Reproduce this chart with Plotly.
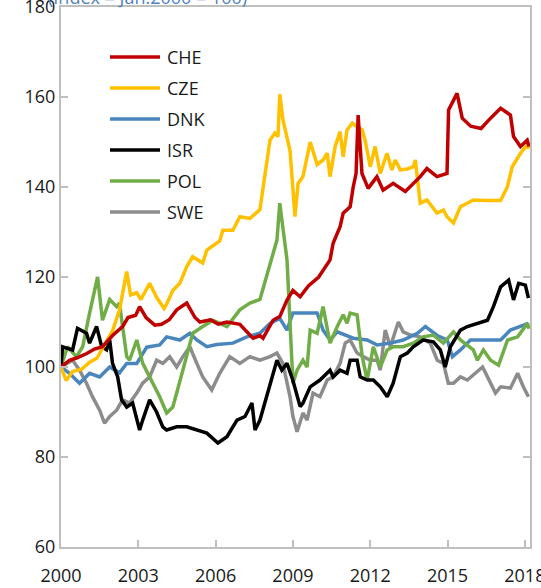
import plotly.graph_objects as go

# ---- data (decimal years, index Jan.2000 = 100) ----
che_x = [2000.0, 2000.33, 2000.6, 2001.0, 2001.3, 2001.61, 2002.0, 2002.39, 2002.6, 2002.9, 2003.05, 2003.3,
         2003.64, 2003.9, 2004.2, 2004.49, 2004.88, 2005.2, 2005.39, 2005.8, 2006.1, 2006.44, 2006.94, 2007.2,
         2007.45, 2007.72, 2007.84, 2008.23, 2008.49, 2008.77, 2009.0, 2009.28, 2009.6, 2010.0, 2010.44, 2010.56,
         2010.83, 2010.95, 2011.22, 2011.34, 2011.45, 2011.53, 2011.68, 2011.92, 2012.26, 2012.5, 2012.89, 2013.36,
         2013.67, 2013.94, 2014.2, 2014.59, 2014.98, 2015.04, 2015.37, 2015.57, 2015.9, 2016.3, 2016.67, 2017.06,
         2017.44, 2017.56, 2017.83, 2018.09, 2018.16]
che_y = [100, 101.5, 102, 103, 104, 104.5, 107, 109, 111, 111.5, 113.4, 111,
         109.3, 109.5, 110.5, 112.7, 114.2, 111, 110, 110.5, 109.5, 110, 109.5, 108,
         106.4, 107, 106.4, 110.4, 111.2, 114.9, 117, 115.6, 118, 120, 123.8, 127.5,
         131.2, 134.2, 135.6, 140, 143, 156, 143, 139.7, 142.3, 139.3, 140.8, 139,
         140.8, 142.3, 144.1, 142.3, 143, 157.1, 160.8, 155.3, 153.5, 153, 155.3, 157.5,
         156, 151.2, 149, 150.4, 149]

cze_x = [2000.0, 2000.2, 2000.45, 2000.8, 2001.1, 2001.4, 2001.69, 2002.0, 2002.27, 2002.55, 2002.7, 2002.94,
         2003.1, 2003.44, 2003.71, 2004.0, 2004.1, 2004.34, 2004.61, 2004.88, 2005.11, 2005.5, 2005.66, 2006.16,
         2006.28, 2006.67, 2006.94, 2007.33, 2007.72, 2007.84, 2008.11, 2008.3, 2008.42, 2008.49, 2008.61, 2008.89,
         2009.08, 2009.2, 2009.39, 2009.67, 2009.94, 2010.17, 2010.33, 2010.44, 2010.64, 2010.83, 2010.95, 2011.1,
         2011.3, 2011.49, 2011.69, 2011.8, 2012.0, 2012.19, 2012.39, 2012.65, 2012.84, 2012.97, 2013.17, 2013.44,
         2013.67, 2013.75, 2013.94, 2014.2, 2014.59, 2014.84, 2014.98, 2015.23, 2015.5, 2015.76, 2016.0, 2016.55,
         2017.06, 2017.32, 2017.51, 2017.83, 2018.09, 2018.16]
cze_y = [100, 97, 99, 99.5, 101, 102, 105, 108, 112.7, 121.2, 116, 116.5,
         115, 118.6, 115.5, 113, 114, 117, 118.6, 122.3, 124.5, 123.1, 126, 128,
         130.4, 130.4, 133.4, 133, 135, 140, 150.4, 152, 151.2, 160.6, 155, 148,
         133.4, 140.8, 142.3, 150, 145, 146, 147.5, 142.3, 149, 152.3, 146.7, 152.7,
         154.2, 153.4, 152.7, 150.4, 144.5, 149, 143, 147.5, 143.8, 146, 143.8, 144,
         144.5, 146, 136.4, 137.1, 134.2, 134.9, 133.4, 132, 135.6, 136.4, 137.1, 137,
         137, 140, 144.5, 147.5, 149.3, 148.5]

dnk_x = [2000.0, 2000.33, 2000.72, 2001.11, 2001.5, 2001.89, 2002.27, 2002.55, 2002.94, 2003.33, 2003.83, 2004.1,
         2004.61, 2005.0, 2005.27, 2005.66, 2006.05, 2006.67, 2007.21, 2007.72, 2008.11, 2008.49, 2008.77, 2009.0,
         2009.5, 2009.94, 2010.17, 2010.44, 2010.72, 2011.34, 2011.88, 2012.27, 2012.78, 2013.28, 2013.83, 2014.14,
         2014.6, 2014.99, 2015.19, 2015.5, 2015.89, 2016.55, 2017.06, 2017.44, 2017.83, 2018.14]
dnk_y = [100, 98.6, 96.4, 98.6, 97.8, 100, 98.7, 100.8, 100.8, 104.4, 104.9, 106.7,
         106, 107.5, 106, 104.5, 105, 105.3, 106.7, 107.5, 109.7, 110.8, 108.2, 112,
         112, 112, 108.2, 106, 107.8, 106.4, 106, 104.9, 105.3, 106, 107.5, 109,
         107, 106, 102.3, 103.8, 106, 106, 106, 108.2, 109, 109.7]

isr_x = [2000.0, 2000.06, 2000.45, 2000.64, 2000.99, 2001.11, 2001.38, 2001.58, 2001.77, 2001.89, 2002.0, 2002.2,
         2002.35, 2002.55, 2002.78, 2003.05, 2003.17, 2003.44, 2003.71, 2003.95, 2004.1, 2004.49, 2004.88, 2005.27,
         2005.66, 2006.09, 2006.44, 2006.83, 2007.14, 2007.41, 2007.53, 2007.72, 2008.11, 2008.38, 2008.57, 2008.77,
         2009.0, 2009.28, 2009.39, 2009.67, 2010.05, 2010.44, 2010.56, 2010.83, 2011.1, 2011.22, 2011.49, 2011.61,
         2011.88, 2012.12, 2012.39, 2012.66, 2012.89, 2013.17, 2013.44, 2013.67, 2014.05, 2014.45, 2014.72, 2014.91,
         2015.11, 2015.5, 2015.77, 2016.16, 2016.55, 2016.78, 2017.06, 2017.37, 2017.56, 2017.76, 2018.02, 2018.14]
isr_y = [100, 104.5, 103.8, 108.6, 107.5, 105.3, 109, 104.5, 103.8, 106, 100.8, 97.8,
         92.7, 91.1, 92, 86, 88.2, 92.7, 90, 86.7, 86, 86.7, 86.7, 86,
         85.3, 83.1, 84.5, 88.2, 89, 92, 86, 88.2, 96.4, 101.5, 99.3, 100.8,
         97, 91.2, 92, 95.6, 97.1, 99.3, 97.8, 99.3, 98.6, 101.5, 101.5, 97.8,
         97.1, 97.1, 95.6, 93.4, 96.4, 102.3, 103.1, 104.5, 106, 105.6, 103.8, 100,
         104.5, 108.2, 109, 109.7, 110.4, 113.4, 117.8, 119.3, 114.9, 118.6, 118.2, 115.3]

pol_x = [2000.0, 2000.25, 2000.6, 2000.84, 2001.11, 2001.42, 2001.61, 2001.89, 2002.16, 2002.27, 2002.39, 2002.55,
         2002.66, 2002.94, 2003.17, 2003.44, 2003.83, 2004.1, 2004.34, 2004.73, 2005.11, 2005.5, 2005.89, 2006.16,
         2006.44, 2006.94, 2007.33, 2007.72, 2008.11, 2008.38, 2008.49, 2008.77, 2009.0, 2009.16, 2009.39, 2009.55,
         2009.67, 2009.94, 2010.17, 2010.44, 2010.72, 2010.95, 2011.1, 2011.22, 2011.49, 2011.69, 2011.88, 2012.12,
         2012.39, 2012.66, 2012.89, 2013.28, 2013.67, 2014.05, 2014.45, 2014.84, 2015.23, 2015.5, 2016.0, 2016.16,
         2016.39, 2016.67, 2016.98, 2017.33, 2017.72, 2018.1, 2018.16]
pol_y = [100, 104.5, 102.3, 104.5, 112, 120, 110.4, 115, 113.4, 114.2, 109, 102.3,
         101.5, 106, 100.8, 97.8, 93.4, 89.8, 91.1, 99.3, 107.5, 109, 110.4, 109.7,
         109, 112.7, 114.2, 115, 123.1, 128.2, 136.4, 123.8, 96.4, 99.3, 101.5, 100,
         108.2, 107.5, 113.4, 105.3, 109, 111.6, 109.7, 112, 111.6, 102.3, 97.1, 104.5,
         100, 103.8, 104.5, 104.5, 105.3, 106.7, 107.1, 105.3, 107.8, 106, 103.8, 101.5,
         103.8, 101.5, 100.4, 106, 106.7, 109.7, 108.5]

swe_x = [2000.0, 2000.21, 2000.45, 2000.72, 2000.99, 2001.23, 2001.5, 2001.69, 2001.89, 2002.16, 2002.39, 2002.66,
         2002.94, 2003.17, 2003.44, 2003.71, 2003.95, 2004.22, 2004.49, 2004.73, 2005.0, 2005.27, 2005.5, 2005.85,
         2006.16, 2006.55, 2006.94, 2007.33, 2007.72, 2008.11, 2008.38, 2008.61, 2008.89, 2009.0, 2009.16, 2009.39,
         2009.55, 2009.78, 2010.05, 2010.33, 2010.56, 2010.83, 2011.03, 2011.22, 2011.49, 2011.73, 2012.0, 2012.27,
         2012.39, 2012.58, 2012.78, 2013.09, 2013.28, 2013.56, 2013.94, 2014.33, 2014.6, 2014.84, 2015.03, 2015.23,
         2015.5, 2015.77, 2016.16, 2016.36, 2016.55, 2016.86, 2017.06, 2017.44, 2017.72, 2017.94, 2018.14]
swe_y = [100, 100.8, 101.5, 99.3, 96.4, 93.3, 90.4, 87.5, 89, 90.4, 92.7, 92,
         94.2, 96.4, 97.8, 101.5, 100.8, 102.3, 100, 102.3, 104.5, 100.8, 97.8, 94.9,
         98.6, 102.3, 100.8, 102.3, 101.5, 102.3, 103.1, 100.8, 93.3, 89, 85.6, 89.8,
         88.2, 94.2, 93.4, 97.1, 97.8, 100.8, 105.3, 106, 103.1, 102.3, 101.5, 101.5,
         99.3, 108.2, 104.5, 110, 107.8, 107.1, 106.7, 105.3, 101.5, 100.8, 96.4, 96.4,
         97.8, 97.1, 98.9, 100, 97.8, 94.2, 95.6, 95.3, 98.6, 95.6, 93.4]

series_names = ["CHE", "CZE", "DNK", "ISR", "POL", "SWE"]
series_colors = ["#C00000", "#FFC000", "#4A86BE", "#000000", "#70AD47", "#8C8C8C"]
series_x = [che_x, cze_x, dnk_x, isr_x, pol_x, swe_x]
series_y = [che_y, cze_y, dnk_y, isr_y, pol_y, swe_y]

x_ticks = [2000, 2003, 2006, 2009, 2012, 2015, 2018]
y_ticks = [60, 80, 100, 120, 140, 160, 180]
title_text = "(Index = Jan.2000 = 100)"

# ---- figure ----
W, H = 541, 588
L, R, T, B = 61, 11, 7, 41
pw, ph = W - L - R, H - T - B
FONT = "Open Sans"
AXIS_GRAY = "#BFBFBF"

def px(xp):
    return (xp - L) / pw

def py(yp):
    return 1 - (yp - T) / ph

fig = go.Figure()
order = [5, 2, 4, 3, 1, 0]
for i in order:
    fig.add_trace(go.Scatter(x=series_x[i], y=series_y[i], mode="lines", name=series_names[i],
                             line=dict(color=series_colors[i], width=3.5), showlegend=False))

# manual legend
for k, (nm, col) in enumerate(zip(series_names, series_colors)):
    yy = 57 + 31 * k
    fig.add_shape(type="line", xref="paper", yref="paper", x0=px(110), x1=px(160), y0=py(yy), y1=py(yy),
                  line=dict(color=col, width=3.5))
    fig.add_annotation(xref="paper", yref="paper", x=px(165), y=py(yy), text=nm, showarrow=False,
                       xanchor="left", yanchor="middle", font=dict(family=FONT, size=18, color="#1a1a1a"))

fig.add_annotation(xref="paper", yref="paper", x=px(46), y=1, yshift=-4, text=title_text, showarrow=False,
                   xanchor="left", yanchor="bottom", font=dict(family=FONT, size=18, color="#4F81BD"))

fig.update_layout(
    width=W, height=H, margin=dict(l=L, r=R, t=T, b=B, pad=0, autoexpand=False),
    plot_bgcolor="white", paper_bgcolor="white",
    font=dict(family=FONT, size=18, color="#1a1a1a"),
    showlegend=False,
)
fig.update_xaxes(range=[2000, 2018.2], tickvals=x_ticks, ticktext=[str(t) for t in x_ticks],
                 showgrid=False, zeroline=False, showline=True, linecolor=AXIS_GRAY, linewidth=2,
                 mirror=True, ticks="inside", ticklen=7, tickcolor=AXIS_GRAY, tickwidth=1.5,
                 ticklabelstandoff=11, automargin=False, ticklabeloverflow="allow")
fig.update_yaxes(range=[60, 180], tickvals=y_ticks, showgrid=False, zeroline=False, showline=True,
                 linecolor=AXIS_GRAY, linewidth=2, mirror="ticks", ticks="inside", ticklen=7,
                 tickcolor=AXIS_GRAY, tickwidth=1.5, ticklabelstandoff=0, automargin=False,
                 ticklabeloverflow="allow")

fig.write_html("out.html", config={"displayModeBar": False},
               post_script="document.body.style.margin='0';document.body.style.overflow='hidden';")
